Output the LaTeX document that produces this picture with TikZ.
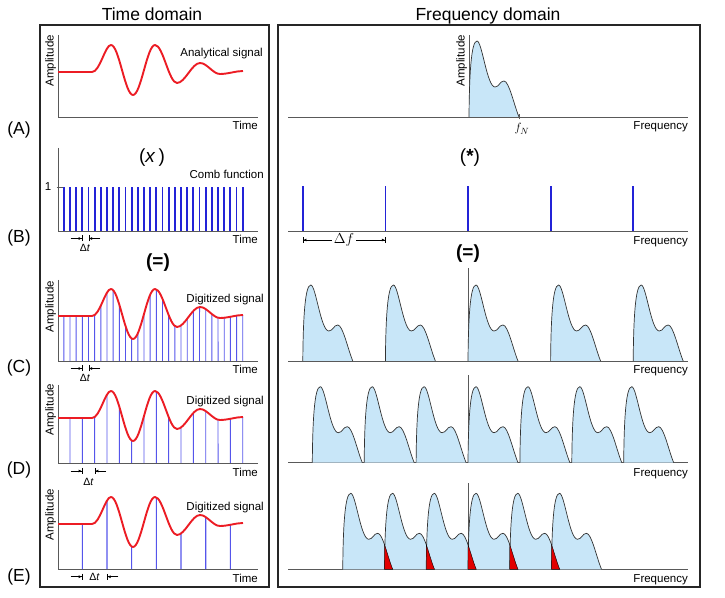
\documentclass[tikz,border=0pt]{standalone}
\usepackage{fontspec}
\setmainfont{Liberation Sans}
\usetikzlibrary{arrows.meta,intersections}
\definecolor{sigred}{RGB}{236,28,36}
\definecolor{combblue}{RGB}{35,35,215}
\definecolor{sampblue}{RGB}{85,85,235}
\definecolor{specblue}{RGB}{200,230,248}
\definecolor{aliasred}{RGB}{225,0,0}

% analytical signal, local coordinates (axis origin at 0,0)
\newcommand{\sigcurve}[1]{\path[#1] (0,45) -- (34,45) .. controls (42,45) and (47,72) .. (53,72)
  .. controls (61,72) and (67,22) .. (75,22) .. controls (83,22) and (89,72) .. (97,72)
  .. controls (105,72) and (111,34) .. (119,34) .. controls (127,34) and (134,54) .. (142,54)
  .. controls (149,54) and (155,43) .. (162,43) .. controls (170,43) and (178,46) .. (185,46);}

\tikzset{
  spec/.pic={\filldraw[specline] (0,0) .. controls (0.3,40) and (2,76) .. (8,76)
    .. controls (13,76) and (18,30) .. (26,30) .. controls (30,30) and (31,36) .. (35,36)
    .. controls (40,36) and (45,12) .. (50,0);},
  overlap/.pic={\filldraw[fill=aliasred, draw=black, line width=0.4pt] (41.75,0) -- (41.75,24.7)
    .. controls (44.5,16.83) and (47.25,6.6) .. (50,0) -- cycle;},
  tooth/.pic={\fill[combblue] (-0.9,0) rectangle (0.9,\pgfkeysvalueof{/tikz/toothh});},
  toothh/.initial=44
}

\begin{document}
\begin{tikzpicture}[x=1pt,y=1pt,
  frame/.style={line width=1.3pt, draw=black!85},
  axis/.style={line width=0.9pt, draw=black!65},
  signal/.style={line width=1.9pt, line join=round},
  samp/.style={line width=0.9pt, sampblue},
  specline/.style={fill=specblue, draw=black!80, line width=0.7pt},
  lbl/.style={font=\fontsize{11.5}{13}\selectfont, inner sep=0pt},
  big/.style={font=\fontsize{17.5}{20}\selectfont, inner sep=0pt},
  op/.style={font=\fontsize{19}{22}\selectfont, inner sep=0pt},
  dt/.style={font=\fontsize{10.5}{12}\selectfont, inner sep=0pt},
  dimtip/.style={line width=0.6pt, -{Latex[length=3pt,width=3pt]Bar[width=6pt]}}]
\useasboundingbox (0,0) rectangle (725,597);

\draw[frame] (40,10) rectangle (269,572);
\draw[frame] (278,10) rectangle (700,572);
\node[big, anchor=base] (ttime) at (152,576) {Time domain};
\node[big, anchor=base] (tfreq) at (488,576) {Frequency domain};
\node[big] (pA) at (19,467) {(A)};
\node[big] (pB) at (19,359) {(B)};
\node[big] (pC) at (19,229) {(C)};
\node[big] (pD) at (19,127) {(D)};
\node[big] (pE) at (19,20) {(E)};
\node[op] (times) at (152,439) {(\textit{x}\,)};
\node[op] (star) at (470,439) {(\textbf{*})};
\node[op, font=\fontsize{19}{22}\selectfont\bfseries] (eqL) at (158,334) {(=)};
\node[op, font=\fontsize{19}{22}\selectfont\bfseries] (eqR) at (468,343) {(=)};

% time domain
\begin{scope}[shift={(58,480)}]
\draw[axis] (0,82) -- (0,0) -- (200,0);
\sigcurve{draw=sigred, signal}
\node[lbl, rotate=90, anchor=base east] (ampA) at (-4.5,82) {Amplitude};
\node[lbl, anchor=base east] (timeA) at (200,-13) {Time};
\node[lbl, anchor=base east] (anaA) at (205,60.3) {Analytical signal};
\end{scope}

\begin{scope}[shift={(58,366)}]
\foreach \k in {0,...,29}
  \pic at (5.8+6.17*\k,0) {tooth};
\draw[axis] (0,83) -- (0,0) -- (200,0);
\draw[axis] (-1.3,44) -- (5.3,44);
\node[lbl] (one) at (-10,44) {1};
\node[lbl, anchor=base east] (combB) at (206,52) {Comb function};
\node[lbl, anchor=base east] (timeB) at (200,-13) {Time};
\draw[dimtip] (12.7,-7.5) -- (24.3,-7.5);
\draw[dimtip] (42,-7.5) -- (30.5,-7.5);
\node[dt] (dtB) at (27,-17) {Δ\textit{t}};
\end{scope}

\begin{scope}[shift={(58,236)}]
\draw[axis] (0,81) -- (0,0) -- (200,0);
\sigcurve{name path=sigC}
\foreach \k in {0,...,29} {
  \pgfmathsetmacro\u{5.8+6.17*\k}
  \path[name path=vl] (\u,0) -- (\u,100);
  \draw[samp, name intersections={of=sigC and vl}] (\u,0) -- (intersection-1);
}
\sigcurve{draw=sigred, signal}
\node[lbl, rotate=90, anchor=base east] (ampC) at (-4.5,80) {Amplitude};
\node[lbl, anchor=base east] (timeC) at (200,-13) {Time};
\node[lbl, anchor=base east] (digC) at (206,58.7) {Digitized signal};
\draw[dimtip] (12.7,-7.5) -- (24.3,-7.5);
\draw[dimtip] (42,-7.5) -- (30.5,-7.5);
\node[dt] (dtC) at (27,-17) {Δ\textit{t}};
\end{scope}

\begin{scope}[shift={(58,134)}]
\draw[axis] (0,78) -- (0,0) -- (200,0);
\sigcurve{name path=sigD}
\foreach \k in {1,3,...,29} {
  \pgfmathsetmacro\u{5.8+6.17*\k}
  \path[name path=vl] (\u,0) -- (\u,100);
  \draw[samp, name intersections={of=sigD and vl}] (\u,0) -- (intersection-1);
}
\sigcurve{draw=sigred, signal}
\node[lbl, rotate=90, anchor=base east] (ampD) at (-4.5,79) {Amplitude};
\node[lbl, anchor=base east] (timeD) at (200,-13) {Time};
\node[lbl, anchor=base east] (digD) at (206,58.7) {Digitized signal};
\draw[dimtip] (12.7,-8) -- (24.3,-8);
\draw[dimtip] (48,-8) -- (36.65,-8);
\node[dt] (dtD) at (30.5,-19) {Δ\textit{t}};
\end{scope}

\begin{scope}[shift={(58,28)}]
\draw[axis] (0,79) -- (0,0) -- (200,0);
\sigcurve{name path=sigE}
\foreach \k in {3,7,...,27} {
  \pgfmathsetmacro\u{5.8+6.17*\k}
  \path[name path=vl] (\u,0) -- (\u,100);
  \draw[samp, line width=1.1pt, name intersections={of=sigE and vl}] (\u,0) -- (intersection-1);
}
\sigcurve{draw=sigred, signal}
\node[lbl, rotate=90, anchor=base east] (ampE) at (-4.5,80) {Amplitude};
\node[lbl, anchor=base east] (timeE) at (200,-13) {Time};
\node[lbl, anchor=base east] (digE) at (206,59) {Digitized signal};
\draw[dimtip] (12.7,-7.7) -- (24.3,-7.7);
\draw[dimtip] (60.3,-7.7) -- (49,-7.7);
\node[dt] (dtE) at (36.6,-7.7) {Δ\textit{t}};
\end{scope}

% frequency domain
\draw[axis] (288,480) -- (688,480);
\draw[axis] (469,480) -- (469,562);
\pic at (469,480) {spec};
\draw[axis] (519,477.5) -- (519,482.5);
\node[lbl, font=\fontsize{13}{15}\selectfont] (fN) at (522,468) {$f_N$};
\node[lbl, rotate=90, anchor=base east] (ampF) at (464.5,562) {Amplitude};
\node[lbl, anchor=base east] (freqA) at (688,467) {Frequency};

\foreach \k in {-2,...,2}
  \pic[toothh=45.7] at (468+82.6*\k,365.3) {tooth};
\draw[axis] (288,365.3) -- (688,365.3);
\draw[line width=0.6pt, {Bar[width=6pt]Latex[length=3pt,width=3pt]}-{Latex[length=3pt,width=3pt]Bar[width=6pt]}]
  (302.8,357) -- node[fill=white, inner sep=1.5pt, font=\fontsize{15}{17}\selectfont] (df) {$\Delta f$} (385.4,357);
\node[lbl, anchor=base east] (freqB) at (688,352.3) {Frequency};

\draw[axis] (288,236) -- (688,236);
\draw[axis] (468,236) -- (468,329);
\foreach \k in {-2,...,2}
  \pic at (468+82.6*\k,236) {spec};
\node[lbl, anchor=base east] (freqC) at (688,223) {Frequency};

\draw[axis] (288,134.3) -- (688,134.3);
\draw[axis] (468,134.3) -- (468,222);
\foreach \k in {-3,...,3}
  \pic at (468+51.9*\k,134.3) {spec};
\node[lbl, anchor=base east] (freqD) at (688,121) {Frequency};

\draw[axis] (288,27.7) -- (688,27.7);
\draw[axis] (468,27.7) -- (468,114);
\foreach \k in {-3,...,2}
  \pic at (468+41.75*\k,27.7) {spec};
\foreach \k in {-3,...,1}
  \pic at (468+41.75*\k,27.7) {overlap};
\node[lbl, anchor=base east] (freqE) at (688,15) {Frequency};
\end{tikzpicture}
\end{document}
